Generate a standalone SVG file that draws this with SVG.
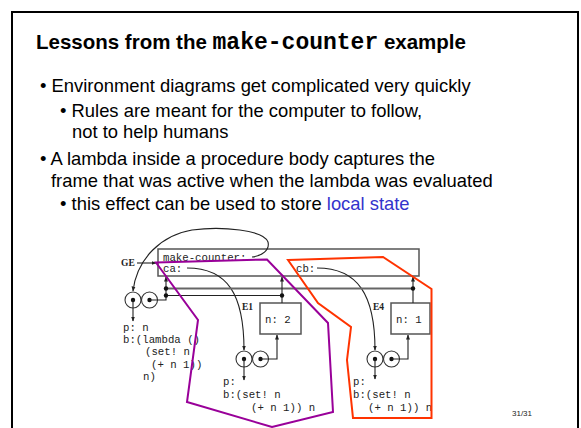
<svg xmlns="http://www.w3.org/2000/svg" width="581" height="428" viewBox="0 0 581 428">
<style>
.body{font-family:"Liberation Sans",Arial,sans-serif;font-size:18.4px;fill:#000}
.title{font-family:"Liberation Sans",Arial,sans-serif;font-size:20.5px;font-weight:bold;fill:#000}
.code{font-family:"Liberation Mono","Courier New",monospace;font-size:10.7px;fill:#222}
.lbl{font-family:"Liberation Serif","Times New Roman",serif;font-size:9.5px;font-weight:bold;fill:#222}
.ln{stroke:#222;stroke-width:1.1;fill:none}
.box{stroke:#555;stroke-width:1.5;fill:none}
.circ{stroke:#333;stroke-width:1.1;fill:#fff}
.dot{fill:#111}
</style>
<defs>
<marker id="ah" viewBox="0 0 10 10" refX="9" refY="5" markerWidth="5" markerHeight="5" orient="auto" markerUnits="userSpaceOnUse">
<path d="M0,1 L10,5 L0,9 z" fill="#222"/>
</marker>
<clipPath id="dclip"><rect x="0" y="0" width="433" height="428"/></clipPath>
</defs>
<rect x="12" y="12" width="566" height="430" fill="#fff" stroke="#000" stroke-width="2"/>
<g id="text">
<text class="title" x="36" y="49">Lessons from the <tspan font-family="'Liberation Mono','Courier New',monospace" font-size="23px">make-counter</tspan> example</text>
<text class="body" x="40" y="92">• Environment diagrams get complicated very quickly</text>
<text class="body" x="60" y="117">• Rules are meant for the computer to follow,</text>
<text class="body" x="72" y="138">not to help humans</text>
<text class="body" x="40" y="165">• A lambda inside a procedure body captures the</text>
<text class="body" x="51" y="187">frame that was active when the lambda was evaluated</text>
<text class="body" x="60" y="210">• this effect can be used to store <tspan fill="#3333cc">local state</tspan></text>
<text x="512" y="416" font-family="'Liberation Sans',Arial,sans-serif" font-size="8px" fill="#222">31/31</text>
</g>
<g clip-path="url(#dclip)">
<g id="GE">
<rect class="box" x="158" y="249" width="261" height="27"/>
<text class="code" x="163" y="261">make-counter:</text>
<text class="code" x="163" y="272">ca:</text>
<text class="code" x="296" y="272">cb:</text>
<text class="lbl" x="121" y="266">GE</text>
</g>
<g id="E1">
<rect class="box" x="260" y="303" width="41" height="31"/>
<text class="code" x="265" y="323">n: 2</text>
<text class="lbl" x="242" y="310">E1</text>
</g>
<g id="E4">
<rect class="box" x="391" y="303" width="39" height="31"/>
<text class="code" x="396" y="323">n: 1</text>
<text class="lbl" x="373" y="310">E4</text>
</g>
<g id="proc-make-counter">
<circle class="circ" cx="133" cy="300" r="8"/>
<circle class="circ" cx="149.5" cy="300" r="8"/>
<circle class="dot" cx="133" cy="300" r="2.2"/>
<circle class="dot" cx="149.5" cy="300" r="2.2"/>
<text class="code" x="123" y="331">p: n</text>
<text class="code" x="123" y="343">b:(lambda ()</text>
<text class="code" x="145" y="355">(set! n</text>
<text class="code" x="151" y="368">(+ n 1))</text>
<text class="code" x="143" y="380">n)</text>
</g>
<g id="proc-ca">
<circle class="circ" cx="244" cy="359" r="8"/>
<circle class="circ" cx="260.5" cy="359" r="8"/>
<circle class="dot" cx="244" cy="359" r="2.2"/>
<circle class="dot" cx="260.5" cy="359" r="2.2"/>
<text class="code" x="223" y="385">p:</text>
<text class="code" x="223" y="398">b:(set! n</text>
<text class="code" x="251" y="411">(+ n 1)) n</text>
</g>
<g id="proc-cb">
<circle class="circ" cx="375" cy="359" r="8"/>
<circle class="circ" cx="391.5" cy="359" r="8"/>
<circle class="dot" cx="375" cy="359" r="2.2"/>
<circle class="dot" cx="391.5" cy="359" r="2.2"/>
<text class="code" x="353" y="385">p:</text>
<text class="code" x="353" y="398">b:(set! n</text>
<text class="code" x="368" y="411">(+ n 1)) n</text>
</g>
<g id="connectors">
<path class="ln" d="M137,263 L156,263" marker-end="url(#ah)"/>
<path class="ln" d="M252,257 C262,256 270,250 268,242 C264,230 222,226 192,230 C162,235 137,258 133,291" marker-end="url(#ah)"/>
<path class="ln" d="M187,268 C228,268 244,295 244,350" marker-end="url(#ah)"/>
<path class="ln" d="M317,268 C358,268 375,295 375,350" marker-end="url(#ah)"/>
<path class="ln" d="M133,300 L133,321" marker-end="url(#ah)"/>
<path class="ln" d="M244,359 L244,380" marker-end="url(#ah)"/>
<path class="ln" d="M375,359 L375,379" marker-end="url(#ah)"/>
<path class="ln" d="M149.5,300 L166,300 L166,277" marker-end="url(#ah)"/>
<path class="ln" d="M260.5,359 L277,359 L277,335" marker-end="url(#ah)"/>
<path class="ln" d="M391.5,359 L408,359 L408,335" marker-end="url(#ah)"/>
<path d="M166,288.5 L413,288.5" stroke="#666" stroke-width="1.8" fill="none"/>
<path class="ln" d="M166,295.5 L282,295.5"/>
<path class="ln" d="M282,303 L282,277" marker-end="url(#ah)"/>
<path class="ln" d="M413,303 L413,277" marker-end="url(#ah)"/>
<circle class="dot" cx="166" cy="288.5" r="2.2"/>
<circle class="dot" cx="166" cy="295.5" r="2.2"/>
<circle class="dot" cx="282" cy="295.5" r="2.2"/>
<circle class="dot" cx="413" cy="288.5" r="2.2"/>
</g>
<g id="region-E1">
<polygon points="156,262.5 267,259.5 328,323 333,412 272,427 187,402 198,320" fill="none" stroke="#990099" stroke-width="2"/>
</g>
<g id="region-E4">
<polygon points="288,260 383,257 431.5,289 431.5,418 353,418 347,360 351,327 318,303" fill="none" stroke="#ff3300" stroke-width="2"/>
</g>
</g>
</svg>
